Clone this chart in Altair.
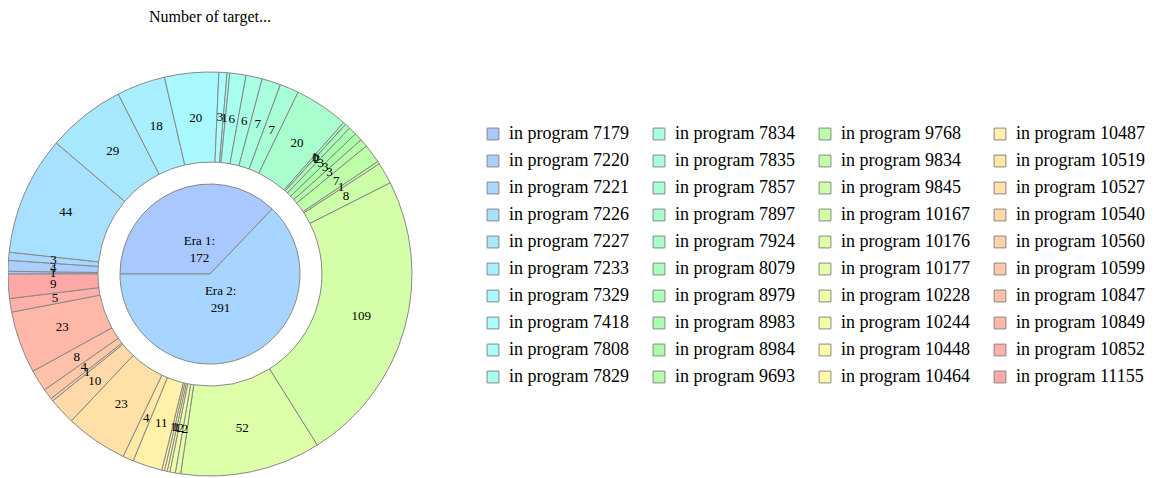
import math
import colorsys
import altair as alt
import pandas as pd

# ---- data ----
programs = [7179, 7220, 7221, 7226, 7227, 7233, 7329, 7418, 7808, 7829,
            7834, 7835, 7857, 7897, 7924, 8079, 8979, 8983, 8984, 9693,
            9768, 9834, 9845, 10167, 10176, 10177, 10228, 10244, 10448, 10464,
            10487, 10519, 10527, 10540, 10560, 10599, 10847, 10849, 10852, 11155]
counts = [1, 4, 3, 44, 29, 18, 20, 3, 1, 6,
          6, 7, 7, 20, 1, 0, 2, 3, 3, 3,
          7, 1, 8, 109, 52, 2, 2, 1, 1, 1,
          11, 4, 23, 10, 1, 4, 8, 23, 5, 9]
program_era = ["Era 1"] * 17 + ["Era 2"] * 23
eras = ["Era 1", "Era 2"]
era_totals = [172, 291]
era_colors = ["#a8c8ff", "#a8d5ff"]

# pastel hue sweep (blue -> red) for the programs
n = len(programs)
prog_colors = []
for i in range(n):
    h = (218 - 218 * i / (n - 1)) / 360.0
    r, g, b = colorsys.hls_to_rgb(h, 0.83, 1.0)
    prog_colors.append("#%02x%02x%02x" % (round(r * 255), round(g * 255), round(b * 255)))

labels = ["in program %d" % p for p in programs]
ring = pd.DataFrame({"label": labels, "value": counts, "idx": list(range(n)),
                     "era": program_era})
pie = pd.DataFrame({"era": eras, "value": era_totals, "idx": [0, 1],
                    "color": era_colors,
                    "txt": ["%s:\n%d" % (e, v) for e, v in zip(eras, era_totals)]})

theta_scale = alt.Scale(range=[1.5 * math.pi, 3.5 * math.pi])
FONT = "Liberation Serif"

ring_arc = alt.Chart(ring).mark_arc(innerRadius=112, outerRadius=202,
                                    stroke="#888888", strokeWidth=1).encode(
    theta=alt.Theta("value:Q", stack=True, scale=theta_scale),
    color=alt.Color("label:N", scale=alt.Scale(domain=labels, range=prog_colors),
                    sort=None,
                    legend=alt.Legend(title=None, orient="none", columns=4,
                                      legendX=476, legendY=53,
                                      symbolLimit=50,
                                      symbolType="square", symbolSize=140,
                                      symbolStrokeColor="#888888", symbolStrokeWidth=1,
                                      symbolOpacity=1,
                                      labelFont=FONT, labelFontSize=18, labelColor="#000000",
                                      labelOffset=7, rowPadding=9, columnPadding=21,
                                      labelLimit=300)),
    order=alt.Order("idx:Q"),
)
ring_txt = alt.Chart(ring).mark_text(radius=157, font=FONT, fontSize=13,
                                     color="#000000", baseline="middle").encode(
    theta=alt.Theta("value:Q", stack=True, scale=theta_scale),
    text=alt.Text("value:Q"),
    order=alt.Order("idx:Q"),
)
pie_arc = alt.Chart(pie).mark_arc(outerRadius=90, stroke="#888888", strokeWidth=1).encode(
    theta=alt.Theta("value:Q", stack=True, scale=theta_scale),
    fill=alt.Fill("color:N", scale=None),
    order=alt.Order("idx:Q"),
)
pie_txt = alt.Chart(pie).mark_text(radius=27, font=FONT, fontSize=13, color="#000000",
                                   lineBreak="\n", lineHeight=17, baseline="middle",
                                   dy=-8).encode(
    theta=alt.Theta("value:Q", stack=True, scale=theta_scale),
    text=alt.Text("txt:N"),
    order=alt.Order("idx:Q"),
)

chart = alt.layer(ring_arc, ring_txt, pie_arc, pie_txt).properties(
    width=404, height=404,
    autosize=alt.AutoSizeParams(type="none"),
    padding={"left": 0, "top": 64, "right": 736, "bottom": 2},
    title=alt.Title("Number of target...", font=FONT, fontSize=16, fontWeight="normal",
                    color="#000000", anchor="middle", offset=45),
).configure_view(stroke=None)

chart.save("out.html", embed_options={"renderer": "svg", "actions": False})
